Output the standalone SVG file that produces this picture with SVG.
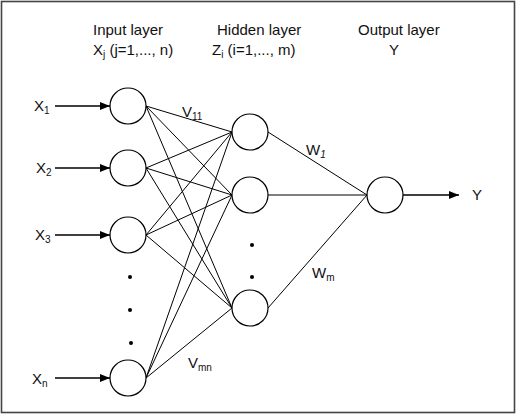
<svg xmlns="http://www.w3.org/2000/svg" width="516" height="414" viewBox="0 0 516 414">
  <defs>
    <marker id="arrow" viewBox="0 0 10 10" refX="10" refY="5" markerWidth="10" markerHeight="10" markerUnits="userSpaceOnUse" orient="auto">
      <path d="M0,1 L10,5 L0,9 Z" fill="#000"/>
    </marker>
    <style>
      text { font-family: "Liberation Sans", Arial, sans-serif; font-size: 15px; fill: #111; }
      .sub { font-size: 10px; }
      .node { fill: #fff; stroke: #000; stroke-width: 1.2; }
      .edge { stroke: #000; stroke-width: 1; fill: none; }
      .in { stroke: #000; stroke-width: 1.6; fill: none; marker-end: url(#arrow); }
      .dot { fill: #000; }
    </style>
  </defs>
  <rect x="0" y="0" width="516" height="414" fill="#fff"/>
  <rect x="1.5" y="1.5" width="513" height="411" fill="none" stroke="#444" stroke-width="1.6"/>

  <!-- layer headings -->
  <g id="headings">
    <text x="93" y="35">Input layer</text>
    <text x="93" y="55">X<tspan class="sub" dy="3">j</tspan><tspan dy="-3"> (j=1,..., n)</tspan></text>
    <text x="217" y="35">Hidden layer</text>
    <text x="212" y="55">Z<tspan class="sub" dy="3">i</tspan><tspan dy="-3"> (i=1,..., m)</tspan></text>
    <text x="358" y="35">Output layer</text>
    <text x="389" y="55">Y</text>
  </g>

  <!-- connectors -->
  <g id="connectors">
    <!-- inputs to hidden -->
    <line class="edge" x1="146" y1="106" x2="232" y2="132"/>
    <line class="edge" x1="146" y1="106" x2="232" y2="195"/>
    <line class="edge" x1="146" y1="106" x2="232" y2="308"/>
    <line class="edge" x1="146" y1="168" x2="232" y2="132"/>
    <line class="edge" x1="146" y1="168" x2="232" y2="195"/>
    <line class="edge" x1="146" y1="168" x2="232" y2="308"/>
    <line class="edge" x1="146" y1="235" x2="232" y2="132"/>
    <line class="edge" x1="146" y1="235" x2="232" y2="195"/>
    <line class="edge" x1="146" y1="235" x2="232" y2="308"/>
    <line class="edge" x1="146" y1="378" x2="232" y2="132"/>
    <line class="edge" x1="146" y1="378" x2="232" y2="195"/>
    <line class="edge" x1="146" y1="378" x2="232" y2="308"/>
    <!-- hidden to output -->
    <line class="edge" x1="268" y1="132" x2="367" y2="195"/>
    <line class="edge" x1="268" y1="195" x2="367" y2="195"/>
    <line class="edge" x1="268" y1="308" x2="367" y2="195"/>
    <!-- input arrows -->
    <line class="in" x1="55" y1="106" x2="110" y2="106"/>
    <line class="in" x1="55" y1="168" x2="110" y2="168"/>
    <line class="in" x1="55" y1="235" x2="110" y2="235"/>
    <line class="in" x1="55" y1="378" x2="110" y2="378"/>
    <!-- output arrow -->
    <line class="in" x1="403" y1="195" x2="459" y2="195"/>
  </g>

  <!-- input layer -->
  <g id="x1"><circle class="node" cx="128" cy="106" r="18"/><text x="34" y="111">X<tspan class="sub" dy="3">1</tspan></text></g>
  <g id="x2"><circle class="node" cx="128" cy="168" r="18"/><text x="36" y="173">X<tspan class="sub" dy="3">2</tspan></text></g>
  <g id="x3"><circle class="node" cx="128" cy="235" r="18"/><text x="35" y="240">X<tspan class="sub" dy="3">3</tspan></text></g>
  <g id="xn"><circle class="node" cx="128" cy="378" r="18"/><text x="32" y="384">X<tspan class="sub" dy="3">n</tspan></text></g>
  <g id="input-dots">
    <circle class="dot" cx="130" cy="277" r="2"/>
    <circle class="dot" cx="130" cy="310" r="2"/>
    <circle class="dot" cx="131" cy="343" r="2"/>
  </g>

  <!-- hidden layer -->
  <g id="z1"><circle class="node" cx="250" cy="132" r="18"/></g>
  <g id="z2"><circle class="node" cx="250" cy="195" r="18"/></g>
  <g id="zm"><circle class="node" cx="250" cy="308" r="18"/></g>
  <g id="hidden-dots">
    <circle class="dot" cx="252" cy="245" r="2"/>
    <circle class="dot" cx="252" cy="277" r="2"/>
  </g>

  <!-- output layer -->
  <g id="y"><circle class="node" cx="385" cy="195" r="18"/><text x="472" y="200">Y</text></g>

  <!-- weight labels -->
  <g id="weights">
    <text x="182" y="117">V<tspan class="sub" dy="3">11</tspan></text>
    <text x="306" y="155">W<tspan class="sub" dy="3" font-style="italic">1</tspan></text>
    <text x="312" y="278">W<tspan class="sub" dy="3">m</tspan></text>
    <text x="188" y="368">V<tspan class="sub" dy="3">mn</tspan></text>
  </g>
</svg>
